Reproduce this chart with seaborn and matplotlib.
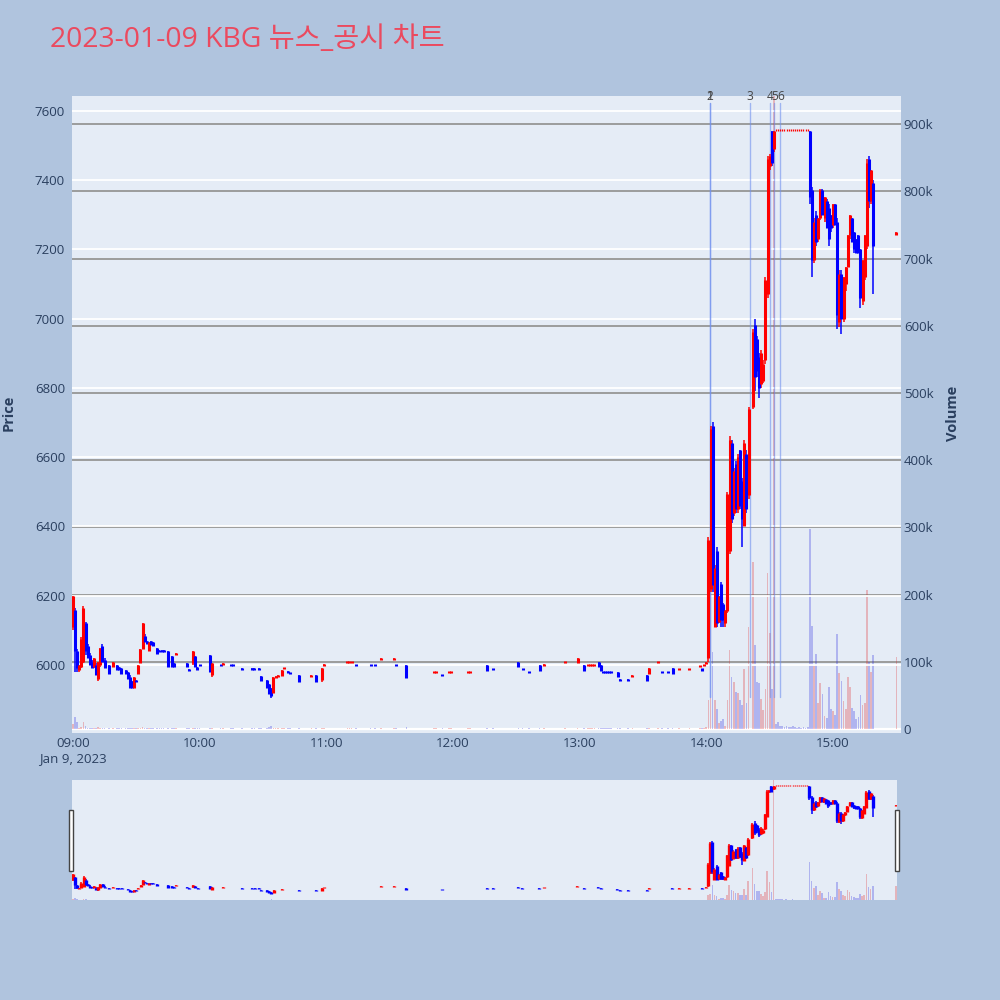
import numpy as np
import pandas as pd
import matplotlib
matplotlib.use("Agg")
import matplotlib.pyplot as plt
import seaborn as sns
from matplotlib.patches import Rectangle

# ---------------- data (minutes after 09:00, prices in KRW, volume in thousands) ----------------
morning_minutes = [0, 1, 2, 3, 4, 5, 6, 7, 8, 9,
                   10, 11, 12, 13, 14, 15, 17, 19, 21, 22,
                   23, 25, 26, 27, 28, 29, 30, 31, 32, 33,
                   34, 35, 36, 37, 38, 40, 41, 42, 43, 45,
                   47, 48, 49, 54, 55, 57, 58, 59, 60, 65,
                   66, 70, 71, 75, 76, 80, 85, 86, 88, 89,
                   92, 93, 94, 95, 96, 97, 99, 100, 102, 103,
                   107, 113, 115, 118, 119]
morning_open = [6110, 6160, 6040, 5985, 5995, 6010, 6120, 6055, 6030, 6010,
                5995, 6000, 5960, 6000, 6055, 6015, 6000, 5995, 6000, 5995,
                5990, 5985, 5980, 5965, 5955, 5935, 5958, 5975, 6005, 6045,
                6085, 6070, 6040, 6068, 6065, 6050, 6042, 6042, 6042, 6040,
                6025, 6005, 6030, 6005, 5988, 6005, 6025, 5995, 6000, 6030,
                5970, 6000, 6000, 6000, 6000, 5990, 5990, 5990, 5990, 5968,
                5958, 5945, 5935, 5920, 5962, 5965, 5968, 5988, 5982, 5978,
                5972, 5965, 5971, 5957, 5998]
morning_high = [6200, 6165, 6045, 6000, 6080, 6170, 6125, 6060, 6035, 6015,
                6020, 6005, 6010, 6050, 6060, 6020, 6000, 6010, 6000, 5995,
                5990, 5985, 5980, 5970, 5955, 5965, 5958, 6000, 6045, 6120,
                6090, 6070, 6065, 6068, 6065, 6050, 6042, 6042, 6042, 6040,
                6025, 6005, 6035, 6005, 5988, 6040, 6025, 5995, 6000, 6030,
                6005, 6000, 6005, 6000, 6000, 5990, 5990, 5990, 5990, 5968,
                5958, 5945, 5935, 5965, 5968, 5970, 5985, 5992, 5982, 5978,
                5972, 5972, 5971, 5990, 6002]
morning_low = [6100, 5980, 5980, 5980, 5990, 6005, 6030, 6020, 6000, 5990,
               5990, 5970, 5955, 5995, 6010, 5990, 5975, 5995, 5985, 5985,
               5975, 5975, 5960, 5935, 5935, 5935, 5952, 5975, 6005, 6045,
               6065, 6060, 6040, 6058, 6055, 6032, 6038, 6038, 6038, 5995,
               5995, 5995, 6030, 5995, 5983, 6000, 5995, 5985, 5996, 5980,
               5965, 5996, 6000, 5996, 5996, 5986, 5986, 5986, 5986, 5955,
               5935, 5915, 5905, 5920, 5962, 5965, 5968, 5988, 5978, 5974,
               5952, 5965, 5952, 5950, 5998]
morning_close = [6200, 6040, 5990, 6000, 6075, 6165, 6040, 6020, 6000, 5990,
                 6020, 5970, 6010, 6050, 6010, 5990, 5975, 6008, 5985, 5985,
                 5975, 5975, 5960, 5935, 5935, 5965, 5952, 6000, 6045, 6120,
                 6065, 6060, 6065, 6058, 6055, 6032, 6038, 6038, 6038, 5995,
                 5995, 5995, 6035, 5995, 5983, 6040, 5995, 5985, 5996, 5980,
                 6005, 5996, 6005, 5996, 5996, 5986, 5986, 5986, 5986, 5955,
                 5935, 5915, 5910, 5965, 5968, 5970, 5985, 5992, 5978, 5974,
                 5952, 5972, 5952, 5990, 6002]
morning_volume = [8, 18, 10, 2, 3, 11, 4, 2, 2, 2,
                  1, 2, 3, 2, 2, 1, 1, 2, 1, 1,
                  1, 1, 1, 2, 1, 2, 1, 1, 2, 3,
                  2, 1, 1, 1, 1, 1, 1, 1, 1, 2,
                  1, 1, 1, 1, 1, 2, 1, 1, 1, 2,
                  2, 1, 1, 1, 1, 1, 1, 1, 1, 1,
                  2, 3, 4, 2, 1, 1, 1, 1, 1, 1,
                  2, 1, 1, 2, 1]

midday_minutes = [130, 131, 132, 134, 141, 143, 146, 152, 153, 158,
                  171, 172, 175, 178, 179, 187, 188, 196, 199, 211,
                  213, 216, 221, 223, 233, 239, 242, 244, 245, 246,
                  247, 249, 250, 251, 252, 253, 254, 255, 258, 259,
                  263, 265, 272, 273, 277, 279, 282, 284, 287, 292,
                  297, 298, 299, 300]
midday_open = [6005, 6005, 6005, 6000, 6000, 6000, 6015, 6015, 6000, 6000,
               5976, 5976, 5972, 5976, 5976, 5976, 5976, 6000, 5989, 6010,
               5989, 5980, 6000, 5998, 6006, 6005, 6000, 5996, 5996, 5996,
               5996, 6009, 6000, 5980, 5980, 5980, 5980, 5980, 5980, 5959,
               5959, 5966, 5970, 5974, 6006, 5980, 5980, 5990, 5985, 5985,
               5993, 5988, 5996, 6002]
midday_high = [6010, 6010, 6010, 6000, 6000, 6000, 6020, 6020, 6000, 6000,
               5980, 5980, 5972, 5980, 5980, 5980, 5980, 6000, 5989, 6010,
               5989, 5980, 6000, 6002, 6010, 6020, 6000, 6000, 6000, 6000,
               6000, 6009, 6000, 5980, 5980, 5980, 5980, 5980, 5980, 5959,
               5959, 5970, 5970, 5990, 6010, 5980, 5980, 5990, 5989, 5989,
               5997, 5988, 6000, 6008]
midday_low = [6005, 6005, 6005, 5996, 5996, 5996, 6015, 6015, 5996, 5963,
              5976, 5976, 5968, 5976, 5976, 5976, 5976, 5983, 5985, 5995,
              5985, 5976, 5984, 5998, 6006, 6005, 5983, 5996, 5996, 5996,
              5996, 5993, 5983, 5976, 5976, 5976, 5976, 5976, 5965, 5955,
              5955, 5966, 5955, 5974, 6006, 5976, 5976, 5974, 5985, 5985,
              5993, 5984, 5996, 6002]
midday_close = [6010, 6010, 6010, 5996, 5996, 5996, 6020, 6020, 5996, 5963,
                5980, 5980, 5968, 5980, 5980, 5980, 5980, 5983, 5985, 5995,
                5985, 5976, 5984, 6002, 6010, 6020, 5983, 6000, 6000, 6000,
                6000, 5993, 5983, 5976, 5976, 5976, 5976, 5976, 5965, 5955,
                5955, 5970, 5955, 5990, 6010, 5976, 5976, 5974, 5989, 5989,
                5997, 5984, 6000, 6008]
midday_volume = [1, 1, 1, 1, 1, 1, 1, 1, 1, 3,
                 1, 1, 1, 1, 1, 1, 1, 2, 1, 1,
                 1, 1, 1, 1, 1, 2, 2, 1, 1, 1,
                 1, 2, 1, 1, 1, 1, 1, 1, 2, 1,
                 1, 1, 2, 2, 1, 1, 1, 1, 1, 1,
                 2, 1, 1, 3]

afternoon_minutes = [301, 302, 303, 304, 305, 306, 307, 308, 309, 310,
                     311, 312, 313, 314, 315, 316, 317, 318, 319, 320,
                     322, 323, 324, 325, 326, 327, 328, 329, 330, 331,
                     332, 333, 334, 335, 336, 337, 338, 339, 340, 341,
                     342, 343, 344, 345, 346, 347, 348, 349, 350, 351,
                     352, 353, 354, 355, 356, 357, 358, 359, 360, 361,
                     362, 363, 364, 365, 366, 367, 368, 369, 370, 371,
                     372, 373, 374, 375, 376, 377, 378, 379, 390]
afternoon_open = [6020, 6220, 6690, 6110, 6330, 6125, 6235, 6175, 6120, 6155,
                  6330, 6640, 6440, 6580, 6450, 6620, 6530, 6400, 6610, 6490,
                  6745, 6980, 6940, 6890, 6810, 6820, 6880, 7070, 7440, 7540,
                  7490, 7540, 7540, 7540, 7540, 7540, 7540, 7540, 7540, 7540,
                  7540, 7540, 7540, 7540, 7540, 7540, 7540, 7540, 7370, 7170,
                  7300, 7230, 7290, 7370, 7290, 7340, 7320, 7300, 7270, 7330,
                  7280, 6990, 7130, 7000, 7100, 7150, 7240, 7290, 7250, 7230,
                  7240, 7200, 7050, 7120, 7210, 7460, 7340, 7390, 7240]
afternoon_high = [6370, 6690, 6700, 6290, 6340, 6200, 6240, 6180, 6160, 6500,
                  6660, 6650, 6570, 6590, 6610, 6620, 6540, 6650, 6620, 6745,
                  6970, 7000, 6950, 6900, 6910, 6880, 7120, 7470, 7475, 7540,
                  7540, 7540, 7540, 7540, 7540, 7540, 7540, 7540, 7540, 7540,
                  7540, 7540, 7540, 7540, 7540, 7540, 7540, 7540, 7380, 7290,
                  7310, 7290, 7375, 7375, 7350, 7345, 7330, 7300, 7330, 7330,
                  7290, 7140, 7140, 7120, 7150, 7240, 7300, 7290, 7250, 7230,
                  7240, 7200, 7170, 7240, 7460, 7470, 7430, 7400, 7250]
afternoon_low = [6010, 6210, 6210, 6110, 6110, 6120, 6110, 6110, 6110, 6150,
                 6320, 6410, 6430, 6440, 6440, 6450, 6340, 6400, 6440, 6480,
                 6740, 6790, 6830, 6770, 6800, 6815, 6870, 7060, 7430, 7440,
                 7480, 7540, 7540, 7540, 7540, 7540, 7540, 7540, 7540, 7540,
                 7540, 7540, 7540, 7540, 7540, 7540, 7540, 7330, 7120, 7160,
                 7210, 7220, 7285, 7300, 7280, 7260, 7210, 7250, 7260, 7270,
                 6970, 6975, 6955, 6990, 7080, 7150, 7230, 7220, 7190, 7190,
                 7190, 7030, 7040, 7110, 7200, 7320, 7330, 7070, 7240]
afternoon_close = [6360, 6680, 6230, 6280, 6120, 6200, 6130, 6130, 6160, 6495,
                   6650, 6420, 6560, 6450, 6600, 6460, 6420, 6640, 6450, 6740,
                   6960, 6830, 6850, 6800, 6900, 6870, 7110, 7460, 7470, 7450,
                   7540, 7540, 7540, 7540, 7540, 7540, 7540, 7540, 7540, 7540,
                   7540, 7540, 7540, 7540, 7540, 7540, 7540, 7350, 7170, 7280,
                   7220, 7290, 7370, 7300, 7350, 7260, 7230, 7260, 7330, 7270,
                   7010, 7130, 7000, 7120, 7150, 7240, 7300, 7220, 7200, 7190,
                   7190, 7060, 7170, 7240, 7450, 7340, 7430, 7210, 7250]
afternoon_volume = [43, 46, 115, 43, 30, 9, 12, 15, 5, 43,
                    117, 77, 70, 55, 53, 43, 36, 90, 38, 152,
                    249, 125, 70, 68, 44, 29, 60, 232, 143, 60,
                    1600, 8, 10, 5, 4, 3, 4, 3, 3, 4,
                    3, 2, 3, 2, 3, 2, 3, 297, 153, 94,
                    112, 39, 69, 52, 19, 17, 62, 30, 27, 21,
                    141, 84, 72, 42, 30, 78, 62, 32, 27, 15,
                    18, 51, 35, 38, 207, 100, 85, 110, 107]

event_minutes = [301.75, 301.8, 320.7, 330.3, 332.2, 335.05]
event_labels = ["1", "2", "3", "4", "5", "6"]

price_ticks = [6000, 6200, 6400, 6600, 6800, 7000, 7200, 7400, 7600]
volume_ticks = [0, 100, 200, 300, 400, 500, 600, 700, 800, 900]
volume_tick_labels = ["0", "100k", "200k", "300k", "400k", "500k", "600k", "700k", "800k", "900k"]
time_ticks = [0, 60, 120, 180, 240, 300, 360]
time_tick_labels = ["09:00\nJan 9, 2023", "10:00", "11:00", "12:00", "13:00", "14:00", "15:00"]
title_text = "2023-01-09 KBG 뉴스_공시 차트"

# ---------------- styling ----------------
RED = "#FF0000"
BLUE = "#0000FF"
FIG_BG = "#B0C4DE"
PLOT_BG = "#E5ECF6"
TEXT = "#2a3f5f"

sns.set_theme(style="white")
plt.rcParams["font.family"] = ["Open Sans", "Noto Sans CJK KR", "DejaVu Sans"]

frames = []
for mins, o, h, l, c, v in [
    (morning_minutes, morning_open, morning_high, morning_low, morning_close, morning_volume),
    (midday_minutes, midday_open, midday_high, midday_low, midday_close, midday_volume),
    (afternoon_minutes, afternoon_open, afternoon_high, afternoon_low, afternoon_close, afternoon_volume),
]:
    assert len(mins) == len(o) == len(h) == len(l) == len(c) == len(v)
    frames.append(pd.DataFrame({"minute": mins, "open": o, "high": h, "low": l, "close": c, "volume": v}))
df = pd.concat(frames, ignore_index=True)
df["candle_color"] = np.where(df["close"] >= df["open"], RED, BLUE)
df["direction"] = np.where(df["close"] > df["open"], "up", "down")


def draw_candles(ax, d, body_lw, wick_lw, doji_lw):
    lo = np.minimum(d["open"], d["close"])
    hi = np.maximum(np.maximum(d["open"], d["close"]), lo + 6)
    body_widths = np.where(d["open"] == d["close"], doji_lw, body_lw)
    ax.vlines(d["minute"], d["low"], d["high"], colors=d["candle_color"], linewidth=wick_lw, zorder=3)
    ax.vlines(d["minute"], lo, hi, colors=d["candle_color"], linewidths=body_widths, zorder=4)


def draw_volume(ax, d):
    sns.barplot(data=d, x="minute", y="volume", hue="direction",
                palette={"up": RED, "down": BLUE}, native_scale=True, dodge=False,
                errorbar=None, alpha=0.27, legend=False, width=0.8, linewidth=0, ax=ax)
    ax.set_xlabel("")
    ax.set_ylabel("")


fig = plt.figure(figsize=(10, 10), dpi=100, facecolor=FIG_BG)

# ---------------- main chart ----------------
ax_p = fig.add_axes([0.072, 0.267, 0.829, 0.637])
ax_v = ax_p.twinx()
ax_v.set_zorder(1)
ax_p.set_zorder(2)
ax_p.patch.set_visible(False)
ax_v.patch.set_visible(True)
ax_v.patch.set_facecolor(PLOT_BG)

draw_volume(ax_v, df)
ax_v.set_ylim(-5.95, 942.1)
ax_v.set_yticks(volume_ticks)
ax_v.set_yticklabels(volume_tick_labels)
ax_v.grid(axis="y", color="#9c9c9c", linewidth=1.4)
ax_v.grid(axis="x", visible=False)
ax_v.axhline(0, color="white", linewidth=1.6, zorder=0.6)

draw_candles(ax_p, df, body_lw=2.2, wick_lw=1.1, doji_lw=0.9)
ax_p.set_ylim(5803.7, 7642.4)
ax_p.set_yticks(price_ticks)
ax_p.grid(axis="y", color="white", linewidth=1.3)
ax_p.grid(axis="x", visible=False)
ax_p.set_xlim(-0.4, 392.2)
ax_p.set_xticks(time_ticks)
ax_p.set_xticklabels(time_tick_labels)

for m, lab in zip(event_minutes, event_labels):
    ax_p.axvline(m, ymin=0.0565, ymax=0.989, color="#6f8fef", alpha=0.6, linewidth=1.0, zorder=2.5)
    ax_p.text(m, 0.9985, lab, transform=ax_p.get_xaxis_transform(), ha="center", va="center",
              fontsize=8.6, color="#444444", zorder=6)

for ax in (ax_p, ax_v):
    for s in ax.spines.values():
        s.set_visible(False)
    ax.tick_params(length=0, labelsize=9.5, labelcolor=TEXT)
ax_p.tick_params(axis="y", pad=5)
ax_p.tick_params(axis="x", pad=3)
ax_v.tick_params(axis="y", pad=2)

fig.text(0.009, 0.587, "Price", rotation=90, ha="center", va="center",
         fontsize=10.5, fontweight="bold", color=TEXT)
fig.text(0.953, 0.587, "Volume", rotation=90, ha="center", va="center",
         fontsize=10.5, fontweight="bold", color=TEXT)

fig.text(0.050, 0.960, title_text, ha="left", va="center", fontsize=20.4, color="#EB4A5F",
         family=["Open Sans", "Noto Sans CJK KR"])

# ---------------- range slider ----------------
ax_s = fig.add_axes([0.072, 0.100, 0.825, 0.120])
ax_sv = ax_s.twinx()
ax_sv.set_zorder(1)
ax_s.set_zorder(2)
ax_s.patch.set_visible(False)
ax_sv.patch.set_visible(True)
ax_sv.patch.set_facecolor(PLOT_BG)
draw_volume(ax_sv, df)
ax_sv.set_ylim(0, 945)
draw_candles(ax_s, df, body_lw=2.4, wick_lw=1.1, doji_lw=1.0)
ax_s.set_ylim(5814, 7626)
ax_s.set_xlim(-0.5, 390.5)
for ax in (ax_s, ax_sv):
    ax.set_xticks([])
    ax.set_yticks([])
    ax.grid(False)
    for s in ax.spines.values():
        s.set_visible(False)

for x0 in (0.0693, 0.8953):
    fig.patches.append(Rectangle((x0, 1 - 0.8707), 0.0040, 0.0607, transform=fig.transFigure,
                                 facecolor="white", edgecolor="#444444", linewidth=1.0, zorder=10))

fig.savefig("out.png", dpi=100, facecolor=FIG_BG)
